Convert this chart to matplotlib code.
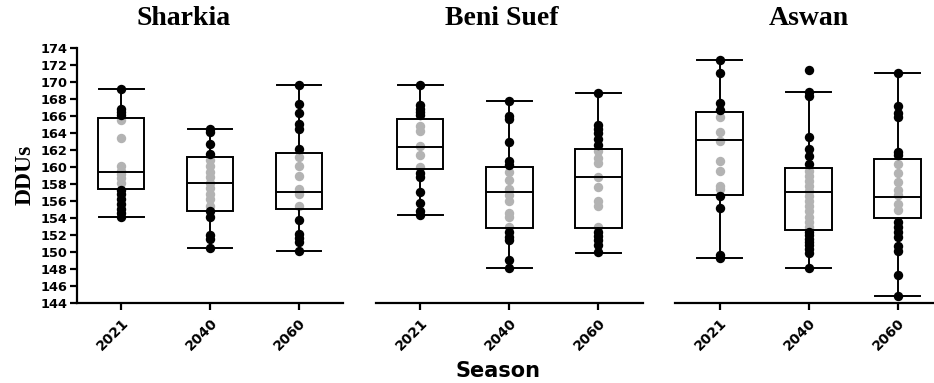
import matplotlib
matplotlib.use("Agg")
import matplotlib.pyplot as plt
import numpy as np

# регіони та роки
regions = ["Sharkia", "Beni Suef", "Aswan"]
years = ["2021", "2040", "2060"]

# окремі значення
sharkia_2021 = [169.2, 166.9, 166.5, 166.1, 165.6, 163.4, 160.1, 159.6, 159.2, 158.7,
                158.2, 157.3, 156.8, 156.3, 155.7, 155.1, 154.6, 154.1]
sharkia_2040 = [164.5, 164.1, 162.7, 161.6, 160.9, 160.2, 159.5, 158.8, 158.2, 157.6,
                156.9, 156.3, 155.5, 154.8, 154.2, 152.0, 151.6, 150.5]
sharkia_2060 = [169.7, 167.4, 166.4, 165.1, 164.5, 162.2, 161.2, 160.2, 159.0, 157.4,
                156.9, 155.5, 153.8, 152.2, 151.7, 151.2, 150.1]
benisuef_2021 = [169.7, 167.3, 166.9, 166.5, 166.1, 164.9, 164.3, 162.5, 161.4, 160.0,
                 159.3, 158.9, 157.1, 155.8, 154.8, 154.4]
benisuef_2040 = [167.8, 166.0, 165.7, 163.0, 160.7, 160.3, 159.4, 158.5, 157.4, 156.7,
                 156.0, 154.6, 154.2, 153.0, 152.4, 151.8, 151.4, 149.1, 148.1]
benisuef_2060 = [168.7, 165.0, 164.5, 164.0, 163.3, 162.6, 161.9, 161.1, 160.5, 158.9,
                 157.7, 156.0, 155.4, 153.0, 152.4, 151.9, 151.4, 150.8, 150.0]
aswan_2021 = [172.6, 171.1, 167.6, 166.7, 165.9, 164.2, 163.1, 160.7, 159.6, 157.8,
              157.4, 156.6, 155.2, 149.7, 149.3]
aswan_2040 = [171.4, 168.9, 168.4, 163.6, 162.2, 161.3, 160.4, 159.6, 159.0, 158.4,
              157.8, 157.2, 156.6, 156.0, 155.4, 154.8, 154.2, 153.6, 153.0, 152.4,
              152.0, 151.6, 151.2, 150.8, 150.4, 149.9, 148.2]
aswan_2060 = [171.1, 167.2, 166.4, 165.9, 161.8, 161.4, 160.4, 159.3, 158.3, 157.3,
              156.7, 155.7, 155.0, 153.6, 153.0, 152.4, 151.8, 150.7, 150.1, 147.3, 144.8]

# статистика коробок: нижній вус, Q1, медіана, Q3, верхній вус
sharkia_box = [(154.1, 157.45, 159.5, 165.8, 169.2),
               (150.5, 154.9, 158.2, 161.2, 164.5),
               (150.1, 155.05, 157.1, 161.65, 169.7)]
benisuef_box = [(154.4, 159.8, 162.35, 165.7, 169.7),
                (148.1, 152.8, 157.05, 160.0, 167.8),
                (149.95, 152.8, 158.8, 162.2, 168.7)]
aswan_box = [(149.3, 156.75, 163.2, 166.55, 172.6),
             (148.2, 152.6, 157.1, 159.9, 168.9),
             (144.8, 154.07, 156.54, 160.94, 171.06)]

values = [[sharkia_2021, sharkia_2040, sharkia_2060],
          [benisuef_2021, benisuef_2040, benisuef_2060],
          [aswan_2021, aswan_2040, aswan_2060]]
boxes = [sharkia_box, benisuef_box, aswan_box]

W, H = 934, 383
fig = plt.figure(figsize=(W / 100, H / 100), dpi=100)

# положення панелей у пікселях (ліво, право)
panels_px = [(77, 343), (375.7, 643), (675, 942)]
bottom_px, top_px = 303.3, 48.3
title_x = [0.40, 0.47, 0.5]

for i, (l, r) in enumerate(panels_px):
    ax = fig.add_axes([l / W, 1 - bottom_px / H, (r - l) / W, (bottom_px - top_px) / H])
    stats = []
    for j, (lo, q1, med, q3, hi) in enumerate(boxes[i]):
        stats.append(dict(whislo=lo, q1=q1, med=med, q3=q3, whishi=hi, fliers=[]))
    # точки: сірі всередині коробки, чорні поза нею
    for j, vals in enumerate(values[i]):
        v = np.array(vals)
        q1, q3 = boxes[i][j][1], boxes[i][j][3]
        inside = (v > q1 + 0.1) & (v < q3 - 0.1)
        ax.scatter(np.full(inside.sum(), j), v[inside], s=46, color="#b3b3b3",
                   zorder=2, linewidths=0)
        ax.scatter(np.full((~inside).sum(), j), v[~inside], s=46, color="black",
                   zorder=4, linewidths=0)
    ax.bxp(stats, positions=range(3), widths=0.52, showfliers=False,
           patch_artist=True,
           boxprops=dict(facecolor="none", edgecolor="black", linewidth=1.4),
           medianprops=dict(color="black", linewidth=1.4),
           whiskerprops=dict(color="black", linewidth=1.4),
           capprops=dict(color="black", linewidth=1.4),
           capwidths=0.5, zorder=3)
    ax.set_xlim(-0.5, 2.5)
    ax.set_ylim(144, 174)
    ax.set_xticks(range(3))
    ax.set_xticklabels(years, rotation=45, ha="right", rotation_mode="anchor",
                       fontsize=10, fontweight="bold", family="DejaVu Sans")
    for s in ["top", "right"]:
        ax.spines[s].set_visible(False)
    ax.spines["bottom"].set_linewidth(1.6)
    ax.spines["left"].set_linewidth(1.6)
    ax.tick_params(axis="x", length=5, width=1.6, pad=4)
    if i == 0:
        ax.set_yticks(np.arange(144, 175, 2))
        ax.tick_params(axis="y", length=5, width=1.6, pad=2)
        for t in ax.get_yticklabels():
            t.set_fontsize(9.3)
            t.set_fontweight("bold")
            t.set_family("DejaVu Sans")
    else:
        ax.spines["left"].set_visible(False)
        ax.set_yticks([])
    ax.text(title_x[i], 1 + 30 / (bottom_px - top_px), regions[i],
            transform=ax.transAxes, ha="center", va="center",
            fontsize=20, fontweight="bold", family="Liberation Serif")

fig.text(25 / W, 1 - 175 / H, "DDUs", rotation=90, ha="center", va="center",
         fontsize=17, fontweight="bold", family="Liberation Serif")
fig.text(498 / W, 1 - 371 / H, "Season", ha="center", va="center",
         fontsize=15, fontweight="bold", family="DejaVu Sans")

fig.savefig("out.png", dpi=100, facecolor="white")
